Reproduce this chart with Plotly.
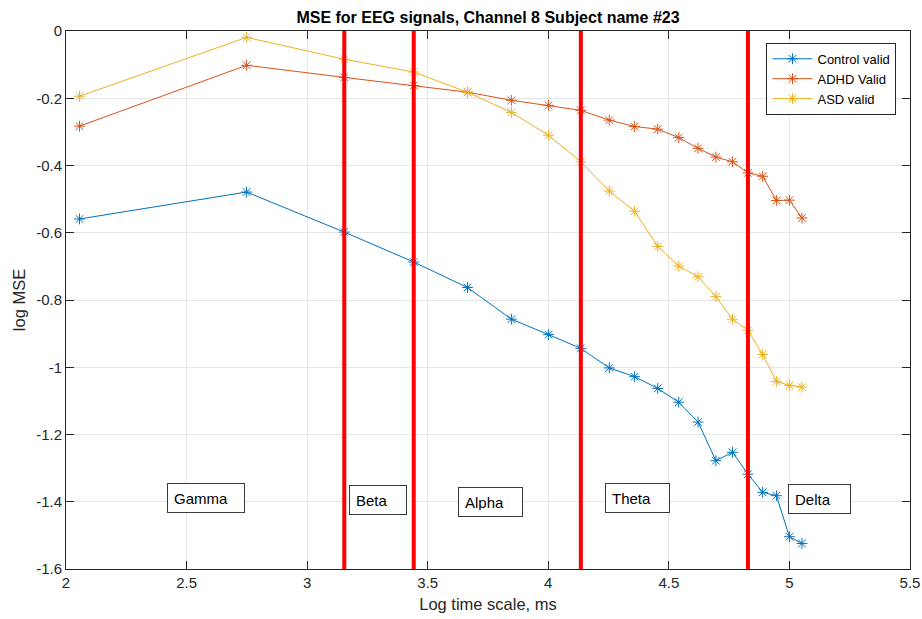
import plotly.graph_objects as go

# ---- data ----
log_scale = [2.056, 2.749, 3.154, 3.442, 3.665, 3.847, 4.001, 4.135, 4.253, 4.358,
             4.454, 4.541, 4.621, 4.695, 4.764, 4.828, 4.889, 4.946, 5.000, 5.052]
control_valid = [-0.559, -0.479, -0.598, -0.687, -0.763, -0.857, -0.903, -0.944, -1.002, -1.028,
                 -1.063, -1.104, -1.163, -1.278, -1.253, -1.318, -1.372, -1.382, -1.504, -1.524]
adhd_valid = [-0.283, -0.102, -0.138, -0.162, -0.182, -0.206, -0.221, -0.236, -0.265, -0.284,
              -0.292, -0.317, -0.349, -0.375, -0.389, -0.422, -0.432, -0.504, -0.503, -0.556]
asd_valid = [-0.194, -0.019, -0.084, -0.122, -0.182, -0.242, -0.310, -0.389, -0.476, -0.536,
             -0.641, -0.699, -0.731, -0.790, -0.857, -0.890, -0.962, -1.042, -1.054, -1.059]

band_edges = [3.154, 3.442, 4.135, 4.828]
band_names = ["Gamma", "Beta", "Alpha", "Theta", "Delta"]
band_label_x = [2.582, 3.293, 3.762, 4.369, 5.126]
band_label_y = [-1.389, -1.395, -1.401, -1.389, -1.392]
band_label_w = [64, 44, 51, 51, 49]

x_ticks = [2, 2.5, 3, 3.5, 4, 4.5, 5, 5.5]
y_ticks = [0, -0.2, -0.4, -0.6, -0.8, -1, -1.2, -1.4, -1.6]

series = [("Control valid", control_valid, "#0072BD"),
          ("ADHD Valid", adhd_valid, "#D95319"),
          ("ASD valid", asd_valid, "#EDB120")]

FONT = "Liberation Sans, Arial, sans-serif"
W, H = 922, 619

fig = go.Figure()
for name, vals, col in series:
    fig.add_trace(go.Scatter(
        x=log_scale, y=vals, name=name, mode="lines+markers",
        line=dict(color=col, width=1),
        marker=dict(symbol="asterisk-open", size=9, color=col, line=dict(color=col, width=1)),
    ))

for xe in band_edges:
    fig.add_shape(type="line", xref="x", yref="y", x0=xe, x1=xe, y0=-1.6, y1=0,
                  line=dict(color="#FF0000", width=4), layer="above")

for nm, bx, by, bw in zip(band_names, band_label_x, band_label_y, band_label_w):
    fig.add_annotation(x=bx, y=by, xref="x", yref="y", text=nm, showarrow=False,
                       xanchor="center", yanchor="middle", width=bw, height=16,
                       align="left", valign="top", bordercolor="#3a3a3a", borderwidth=1, borderpad=6,
                       bgcolor="white", font=dict(family=FONT, size=15, color="black"))

axis_common = dict(showline=True, linecolor="#262626", linewidth=1, mirror="ticks",
                   ticks="inside", ticklen=8, tickcolor="#262626", automargin=False,
                   showgrid=True, gridcolor="#E6E6E6", gridwidth=1, zeroline=False,
                   tickfont=dict(family=FONT, size=15, color="#262626"))

fig.update_layout(
    width=W, height=H,
    margin=dict(l=66, r=12, t=31, b=50, autoexpand=False),
    paper_bgcolor="white", plot_bgcolor="white",
    title=dict(text="<b>MSE for EEG signals, Channel 8 Subject name #23</b>",
               x=0.5, xanchor="center", xref="paper",
               y=1 - 17 / H, yanchor="middle", yref="container",
               font=dict(family=FONT, size=16, color="black")),
    xaxis=dict(range=[2, 5.5], tickvals=x_ticks, ticktext=[f"{v:g}" for v in x_ticks],
               ticklabeloverflow="allow",
               title=dict(text="Log time scale, ms", standoff=8,
                          font=dict(family=FONT, size=16.5, color="#262626")),
               **axis_common),
    yaxis=dict(range=[-1.6, 0], tickvals=y_ticks, ticktext=[f"{v:g}" for v in y_ticks],
               title=dict(text="log MSE", standoff=6,
                          font=dict(family=FONT, size=16.5, color="#262626")),
               **axis_common),
    legend=dict(x=0.984, y=0.978, xanchor="right", yanchor="top",
                bgcolor="white", bordercolor="#262626", borderwidth=1,
                font=dict(family=FONT, size=13, color="black"),
                tracegroupgap=0, itemwidth=40),
    showlegend=True,
)

fig.write_html("out.html", config={"displayModeBar": False},
               post_script="document.body.style.margin='0';")
